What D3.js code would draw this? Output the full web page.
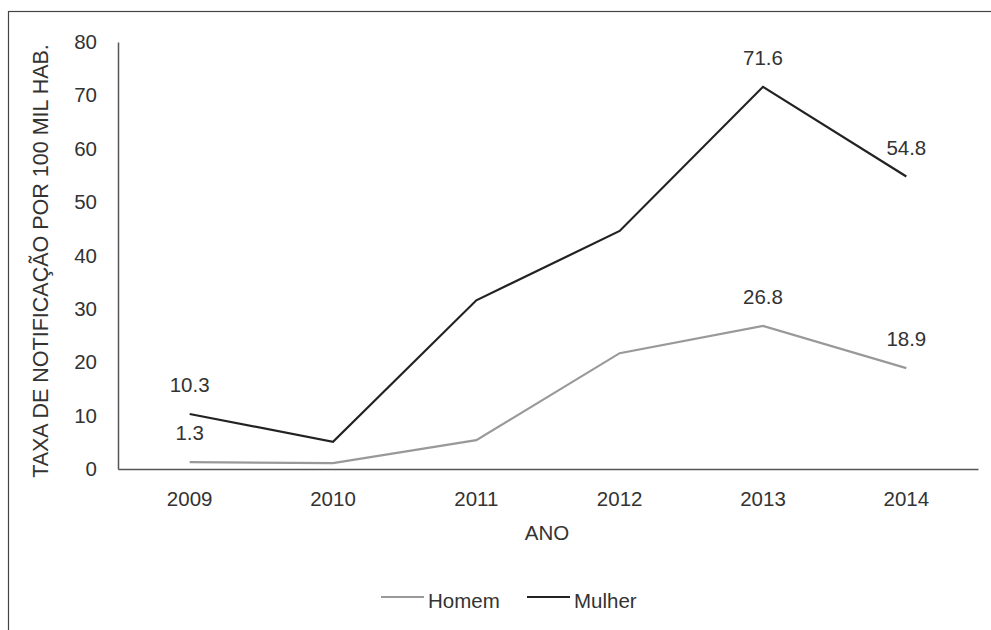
<!DOCTYPE html>
<html>
<head>
<meta charset="utf-8">
<script src="https://cdn.jsdelivr.net/npm/d3@7"></script>
<style>
  body { margin: 0; background: #fff; }
  svg { font-family: "Liberation Sans", Arial, sans-serif; }
  .tick-label { font-size: 20.5px; fill: #333; }
  .value-label { font-size: 20.5px; fill: #333; }
</style>
</head>
<body>
<svg width="991" height="630"></svg>
<script>
const years = ["2009", "2010", "2011", "2012", "2013", "2014"];
const homem = [1.3, 1.1, 5.4, 21.7, 26.8, 18.9];
const mulher = [10.3, 5.1, 31.6, 44.6, 71.6, 54.8];
const yTicks = [0, 10, 20, 30, 40, 50, 60, 70, 80];
const labeledYears = ["2009", "2013", "2014"];

const svg = d3.select("svg");

// frame around the figure
svg.append("rect")
  .attr("x", 8.5).attr("y", 11.5)
  .attr("width", 1000).attr("height", 700)
  .attr("fill", "none")
  .attr("stroke", "#444")
  .attr("stroke-width", 1.2);

const x = d3.scaleBand().domain(years).range([118, 978]);
const y = d3.scaleLinear().domain([0, 80]).range([469, 42]);

// axes
const yAxis = svg.append("g")
  .attr("transform", "translate(118,0)")
  .call(d3.axisLeft(y).tickValues(yTicks).tickSize(0).tickPadding(21));
yAxis.select(".domain").attr("stroke", "#555").attr("stroke-width", 1.5);
yAxis.selectAll("text").attr("class", "tick-label").attr("font-size", null).attr("fill", null);

const xAxis = svg.append("g")
  .attr("transform", "translate(0,469)")
  .call(d3.axisBottom(x).tickSize(0).tickPadding(0));
xAxis.select(".domain").attr("stroke", "#555").attr("stroke-width", 1.5);
xAxis.selectAll("text")
  .attr("class", "tick-label").attr("font-size", null).attr("fill", null)
  .attr("y", 37).attr("dy", null);

// axis titles
svg.append("text")
  .attr("transform", "translate(48,261) rotate(-90)")
  .attr("text-anchor", "middle")
  .attr("font-size", 21.5)
  .attr("fill", "#333")
  .text("TAXA DE NOTIFICAÇÃO POR 100 MIL HAB.");

svg.append("text")
  .attr("x", 547).attr("y", 540)
  .attr("text-anchor", "middle")
  .attr("font-size", 20.5)
  .attr("fill", "#333")
  .text("ANO");

const line = d3.line()
  .x((d, i) => x(years[i]) + x.bandwidth() / 2)
  .y(d => y(d));

const series = [
  { name: "Homem", values: homem, color: "#999" },
  { name: "Mulher", values: mulher, color: "#222" },
];

series.forEach(s => {
  svg.append("path")
    .datum(s.values)
    .attr("fill", "none")
    .attr("stroke", s.color)
    .attr("stroke-width", 2.2)
    .attr("d", line);

  svg.selectAll(null)
    .data(s.values.filter((d, i) => labeledYears.includes(years[i])))
    .enter().append("text")
    .attr("class", "value-label")
    .attr("text-anchor", "middle")
    .attr("x", d => x(years[s.values.indexOf(d)]) + x.bandwidth() / 2)
    .attr("y", d => y(d) - 22)
    .text(d => d.toFixed(1));
});

// legend
const legend = svg.append("g").attr("transform", "translate(381,597)");
series.forEach((s, i) => {
  const g = legend.append("g").attr("transform", `translate(${i * 146},0)`);
  g.append("line")
    .attr("x1", 0).attr("x2", 43)
    .attr("stroke", s.color)
    .attr("stroke-width", 2.2);
  g.append("text")
    .attr("x", 47).attr("y", 11)
    .attr("font-size", 20.5)
    .attr("fill", "#333")
    .text(s.name);
});
</script>
</body>
</html>
